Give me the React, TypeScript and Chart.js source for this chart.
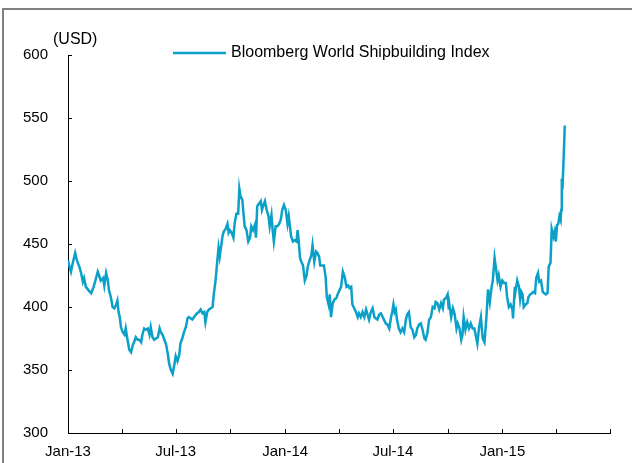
import { useEffect, useRef } from "react";
import { Chart, registerables } from "chart.js";

Chart.register(...registerables);

// day offset from 1 Jan 2013
const days = [
  0, 2, 5, 8, 12, 15, 19, 22, 25, 27, 30, 35, 39, 43, 46, 50, 53, 55, 59, 61, 64, 67, 69, 72, 75, 78, 81, 83, 85, 87, 89, 92,
  95, 97, 100, 103, 106, 109, 111, 114, 117, 120, 123, 125, 128, 131, 134, 137, 139, 142, 145, 148, 151, 154, 156, 159, 162,
  165, 168, 170, 173, 176, 179,
  181, 184, 187, 189, 192, 195, 198, 201, 203, 206, 209, 212, 215, 217, 220, 223, 226, 229, 231, 234, 237, 240, 243, 245, 248,
  251, 253, 255, 257, 260, 262, 265, 268, 270, 272, 275, 278, 280, 283, 286, 288, 290, 293, 295, 297, 300, 303, 306, 308, 311,
  314, 316, 318, 321, 324, 326, 328, 331, 334, 337, 339, 342, 344, 346, 349, 352, 355, 358, 360, 363,
  366, 369, 371, 373, 375, 378, 381, 384, 386, 388, 390, 392, 395, 398, 401, 403, 406, 409, 411, 414, 417, 419, 422, 424, 427,
  430, 433, 435, 438, 440, 442, 445, 448, 451, 454, 457, 459, 462, 465, 468, 471, 473, 476, 478, 481, 484, 487, 489, 492, 495,
  498, 501, 503, 506, 509, 512, 515, 517, 520, 523, 526, 529, 531, 534, 537, 540, 543, 545, 547, 549,
  551, 553, 556, 559, 562, 565, 568, 570, 573, 576, 579, 582, 585, 587, 590, 593, 596, 599, 601, 604, 607, 610, 613, 616, 618,
  621, 624, 627, 630, 632, 635, 638, 640, 641, 644, 647, 650, 653, 655, 658, 661, 663, 665, 668, 671, 674, 677, 680, 683, 686,
  688, 691, 694,
  697, 700, 703, 706, 709, 712, 714, 717, 719, 722, 724, 727, 730, 733, 736, 738, 741, 744, 747, 748, 751, 752, 755, 758, 760,
  762, 764, 766, 769, 772, 774, 777, 780, 782, 785, 787, 790, 792, 795, 798, 800, 803, 806, 808, 811, 813, 816, 818, 820, 822,
  824, 826, 828, 829, 830, 831, 833, 835,
];

const values = [
  437, 433, 428, 435, 443, 437, 432, 427, 420, 423, 416, 413, 411, 416, 421, 428, 424, 421, 423, 417, 427, 421, 413, 408, 400,
  399, 402, 405, 396, 392, 384, 380, 378, 383, 374, 366, 364, 370, 372, 376, 374, 374, 372, 378, 383, 382, 383, 378, 384, 376,
  374, 375, 376, 383, 380, 378, 374, 370, 362, 355, 350, 347, 355,
  361, 357, 362, 371, 375, 380, 384, 391, 392, 391, 390, 392, 394, 395, 396, 398, 395, 396, 388, 396, 398, 399, 400, 410, 421,
  437, 447, 440, 447, 457, 460, 462, 466, 459, 461, 459, 455, 466, 474, 474, 494, 488, 485, 474, 464, 461, 452, 455, 464, 461,
  465, 455, 480, 482, 484, 477, 480, 484, 477, 472, 464, 473, 461, 452, 464, 464, 466, 470, 477, 481,
  477, 466, 472, 464, 456, 452, 453, 452, 461, 451, 439, 436, 433, 421, 425, 432, 437, 441, 449, 436, 444, 443, 440, 433, 433,
  433, 424, 408, 402, 410, 392, 403, 406, 407, 411, 414, 416, 428, 424, 416, 417, 415, 416, 402, 399, 396, 392, 395, 392, 396,
  392, 398, 395, 390, 396, 399, 392, 391, 390, 394, 395, 392, 390, 387, 386, 383, 392, 396, 402, 396,
  398, 390, 383, 380, 383, 380, 390, 394, 396, 384, 382, 376, 378, 383, 386, 387, 382, 375, 374, 379, 390, 392, 400, 399, 404,
  403, 398, 403, 399, 406, 407, 410, 398, 402, 392, 399, 394, 383, 387, 383, 374, 378, 392, 382, 388, 383, 387, 383, 383, 376,
  371, 384, 392,
  375, 372, 390, 414, 404, 416, 421, 439, 432, 421, 425, 416, 421, 419, 419, 408, 400, 402, 398, 391, 416, 412, 421, 416, 406,
  412, 410, 400, 402, 403, 408, 410, 411, 412, 411, 423, 427, 420, 421, 412, 411, 410, 411, 432, 435, 462, 456, 460, 452, 465,
  466, 472, 469, 477, 502, 493, 517, 544,
];

// quarter starts, Jan-13 .. Jul-15
const tickDays = [0, 90, 181, 273, 365, 455, 546, 638, 730, 820, 911];
const tickLabels = ["Jan-13", "", "Jul-13", "", "Jan-14", "", "Jul-14", "", "Jan-15", "", ""];

const seriesName = "Bloomberg World Shipbuilding Index";
const unitLabel = "(USD)";

const LINE = "#0ba0c8";
const FONT = "'Liberation Sans', Arial, sans-serif";

const extras = {
  id: "extras",
  afterDraw(chart: any) {
    const { ctx, chartArea, scales } = chart;
    const xs = scales.x;
    const ys = scales.y;
    ctx.save();
    // tick marks point inward
    ctx.strokeStyle = "#000";
    ctx.lineWidth = 1;
    ctx.beginPath();
    for (const t of ys.ticks) {
      const py = Math.round(ys.getPixelForValue(t.value)) + 0.5;
      ctx.moveTo(chartArea.left, py);
      ctx.lineTo(chartArea.left + 4, py);
    }
    for (const t of xs.ticks) {
      const px = Math.round(xs.getPixelForValue(t.value)) + 0.5;
      ctx.moveTo(px, chartArea.bottom);
      ctx.lineTo(px, chartArea.bottom - 4);
    }
    ctx.stroke();

    ctx.fillStyle = "#000";
    ctx.font = `16px ${FONT}`;
    ctx.textBaseline = "middle";
    ctx.textAlign = "left";
    ctx.fillText(unitLabel, 53, 40);

    // legend
    ctx.strokeStyle = LINE;
    ctx.lineWidth = 2.5;
    ctx.beginPath();
    ctx.moveTo(173, 53);
    ctx.lineTo(226, 53);
    ctx.stroke();
    ctx.fillText(seriesName, 231, 53);
    ctx.restore();
  },
};

function ShipbuildingChart() {
  const ref = useRef<HTMLCanvasElement>(null);

  useEffect(() => {
    const canvas = ref.current;
    if (!canvas) return;

    const chart = new Chart(canvas, {
      type: "line",
      data: {
        datasets: [
          {
            label: seriesName,
            data: days.map((d, i) => ({ x: d, y: values[i] })),
            borderColor: LINE,
            borderWidth: 2.5,
            pointRadius: 0,
            tension: 0,
            fill: false,
          },
        ],
      },
      options: {
        animation: false,
        responsive: true,
        maintainAspectRatio: false,
        layout: { padding: { top: 55, right: 22, left: 0, bottom: 0 } },
        plugins: {
          legend: { display: false },
          tooltip: { enabled: false },
        },
        scales: {
          x: {
            type: "linear",
            min: 0,
            max: 911,
            afterBuildTicks: (s: any) => {
              s.ticks = tickDays.map((v) => ({ value: v }));
            },
            afterFit: (s: any) => {
              s.height = 30;
            },
            grid: { display: false, drawTicks: false },
            border: { display: true, color: "#000", width: 1 },
            ticks: {
              autoSkip: false,
              maxRotation: 0,
              padding: 10,
              color: "#000",
              font: { family: FONT, size: 15 },
              callback: (_v: any, i: number) => tickLabels[i] ?? "",
            },
          },
          y: {
            min: 300,
            max: 600,
            afterFit: (s: any) => {
              s.width = 68;
            },
            grid: { display: false, drawTicks: false },
            border: { display: true, color: "#000", width: 1 },
            ticks: {
              stepSize: 50,
              padding: 20,
              color: "#000",
              font: { family: FONT, size: 15 },
            },
          },
        },
      },
      plugins: [extras],
    });
    return () => chart.destroy();
  }, []);

  return (
    <div style={{ position: "fixed", left: 0, top: 0, width: 632, height: 463, overflow: "hidden", background: "#fff" }}>
      <div
        style={{
          position: "absolute",
          left: 2,
          top: 8,
          width: 700,
          height: 600,
          borderTop: "2px solid #808080",
          borderLeft: "2px solid #808080",
        }}
      />
      <div style={{ position: "absolute", left: 0, top: 0, width: 632, height: 463 }}>
        <canvas ref={ref} />
      </div>
    </div>
  );
}

export default function App() {
  return <ShipbuildingChart />;
}
